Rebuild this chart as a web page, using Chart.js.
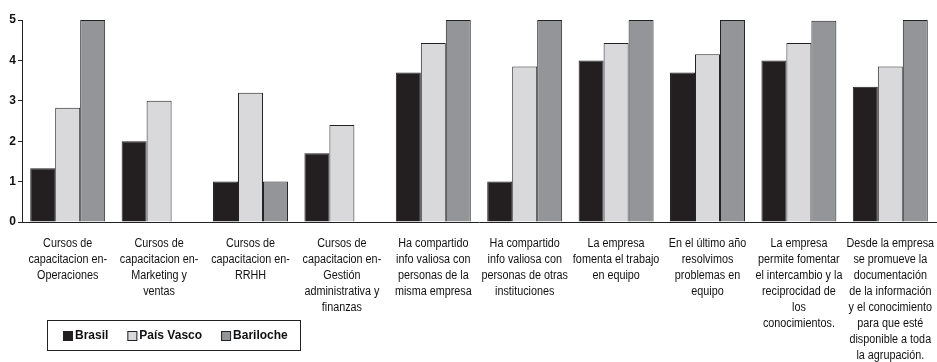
<!DOCTYPE html>
<html>
<head>
<meta charset="utf-8">
<script src="https://cdn.jsdelivr.net/npm/chart.js@4/dist/chart.umd.min.js"></script>
<style>
    body { margin: 0; background: #fff; }
    #wrap { width: 937px; height: 362px; }
</style>
</head>
<body>
<div id="wrap"><canvas id="chart" width="937" height="362"></canvas></div>
<script>
// CATEGORIES (ONE ARRAY PER LINE OF TEXT)
const categories = [
    ["Cursos de", "capacitacion en-", "Operaciones"],
    ["Cursos de", "capacitacion en-", "Marketing y", "ventas"],
    ["Cursos de", "capacitacion en-", "RRHH"],
    ["Cursos de", "capacitacion en-", "Gestión", "administrativa y", "finanzas"],
    ["Ha compartido", "info valiosa con", "personas de la", "misma empresa"],
    ["Ha compartido", "info valiosa con", "personas de otras", "instituciones"],
    ["La empresa", "fomenta el trabajo", "en equipo"],
    ["En el último año", "resolvimos", "problemas en", "equipo"],
    ["La empresa", "permite fomentar", "el intercambio y la", "reciprocidad de", "los", "conocimientos."],
    ["Desde la empresa", "se promueve la", "documentación", "de la información", "y el conocimiento", "para que esté", "disponible a toda", "la agrupación."],
];

// SERIES
const brasil    = [1.33, 2, 1, 1.7, 3.7, 1, 4, 3.7, 4, 3.35];
const paisVasco = [2.83, 3, 3.2, 2.4, 4.43, 3.85, 4.43, 4.15, 4.43, 3.85];
const bariloche = [5, null, 1, null, 5, 5, 5, 5, 4.98, 5];

// Y AXIS TICKS
const yTicks = [0, 1, 2, 3, 4, 5];

const seriesNames  = ["Brasil", "País Vasco", "Bariloche"];
const seriesColors = ["#231f20", "#d9d9db", "#939598"];

const labelFont = "'Liberation Sans', Arial, sans-serif";

// CATEGORY LABELS, SQUEEZED SIDEWAYS SO LONG LINES FIT THEIR COLUMN
const narrowLabels = {
    id: "narrowLabels",
    afterDraw(chart) {
        const ctx = chart.ctx;
        const xs = chart.scales.x;
        ctx.save();
        ctx.font = "12px " + labelFont;
        ctx.fillStyle = "#111";
        ctx.textAlign = "center";
        ctx.textBaseline = "middle";
        chart.data.labels.forEach((lines, i) => {
            const x = xs.getPixelForTick(i);
            lines.forEach((line, j) => {
                ctx.save();
                ctx.translate(x, xs.top + 22 + j * 15.9);
                ctx.scale(0.9, 1);
                ctx.fillText(line, 0, 0);
                ctx.restore();
            });
        });
        ctx.restore();
    },
};

// LEGEND DRAWN INSIDE A FRAMED BOX UNDER THE FIRST CATEGORIES
const boxedLegend = {
    id: "boxedLegend",
    afterDraw(chart) {
        const ctx = chart.ctx;
        ctx.save();
        ctx.strokeStyle = "#222";
        ctx.lineWidth = 1;
        ctx.strokeRect(47.5, 320.5, 253, 30);
        ctx.font = "bold 12px " + labelFont;
        ctx.textBaseline = "middle";
        let x = 63;
        const y = 336;
        chart.data.datasets.forEach((ds) => {
            ctx.fillStyle = ds.backgroundColor;
            ctx.fillRect(x, y - 5, 10, 10);
            ctx.strokeStyle = "#222";
            ctx.strokeRect(x + 0.5, y - 4.5, 9, 9);
            ctx.fillStyle = "#111";
            ctx.fillText(ds.label, x + 12, y);
            x += 12 + ctx.measureText(ds.label).width + 19;
        });
        ctx.restore();
    },
};

const chart = new Chart(document.getElementById("chart"), {
    type: "bar",
    plugins: [narrowLabels, boxedLegend],
    data: {
        labels: categories,
        datasets: [brasil, paisVasco, bariloche].map((values, i) => ({
            label: seriesNames[i],
            data: values,
            backgroundColor: seriesColors[i],
            borderColor: "#222",
            borderWidth: 1,
            borderSkipped: "bottom",
            categoryPercentage: 0.82,
            barPercentage: 1.0,
        })),
    },
    options: {
        responsive: false,
        animation: false,
        layout: { padding: { top: 20, right: 1, left: 0, bottom: 0 } },
        plugins: {
            legend: { display: false },
            tooltip: { enabled: false },
        },
        scales: {
            x: {
                grid: { display: false },
                border: { display: true, color: "#222", width: 1 },
                ticks: { display: false },
                afterFit(scale) { scale.height = 140; },
            },
            y: {
                min: 0,
                max: 5,
                afterBuildTicks(scale) { scale.ticks = yTicks.map((v) => ({ value: v })); },
                grid: { drawOnChartArea: false, drawTicks: true, tickLength: 4, color: "#222" },
                border: { display: true, color: "#222", width: 1 },
                ticks: {
                    padding: 2,
                    color: "#111",
                    font: { family: labelFont, size: 12, weight: "bold" },
                },
                afterFit(scale) { scale.width = 22; },
            },
        },
    },
});
</script>
</body>
</html>
